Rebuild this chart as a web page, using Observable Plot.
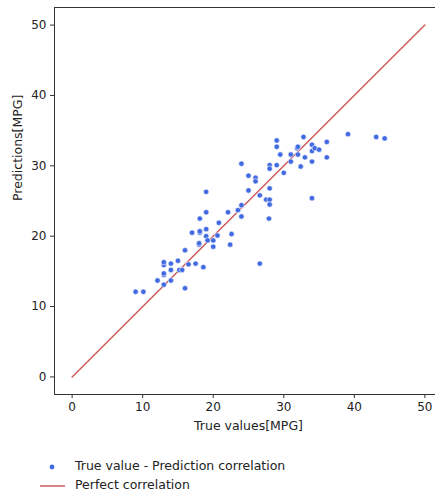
<!DOCTYPE html>
<html>
<head>
<meta charset="utf-8">
<script src="https://cdn.jsdelivr.net/npm/d3@7"></script>
<script src="https://cdn.jsdelivr.net/npm/@observablehq/plot@0.6"></script>
<style>
  html, body { margin: 0; padding: 0; background: #fff; overflow: hidden; }
  body { width: 435px; height: 495px; font-family: "DejaVu Sans", sans-serif; }
  #chart svg { max-width: none; display: block; }
  .legend { position: relative; height: 55px; font-size: 12.5px; color: #222; }
  .legend .item { position: absolute; left: 0; height: 18px; }
  .legend svg { position: absolute; left: 0; top: 0; }
  .legend span { position: absolute; left: 75px; top: 0px; white-space: nowrap; }
</style>
</head>
<body>
<div id="chart"></div>
<div class="legend">
  <div class="item" style="top:18px;">
    <svg width="70" height="18"><circle cx="52" cy="9" r="2.4" fill="#4169e1"></circle></svg>
    <span id="leg1"></span>
  </div>
  <div class="item" style="top:37px;">
    <svg width="70" height="18"><line x1="40" x2="65" y1="9" y2="9" stroke="#cd5c5c" stroke-width="1.5"></line></svg>
    <span id="leg2"></span>
  </div>
</div>
<script>
// True values (x) and predictions (y), MPG
const trueValues = [9.0, 10.1, 12.1, 13.0, 13.0, 13.0, 13.0, 13.0, 14.0, 14.0, 14.0, 15.0, 15.2, 15.6, 16.0, 16.0, 16.5, 17.0, 17.5, 18.0,
  18.0, 18.1, 18.1, 18.1, 18.6, 19.0, 19.0, 19.0, 19.0, 19.2, 20.0, 20.0, 20.6, 20.8, 22.1, 22.4, 22.6, 23.5, 24.0, 24.0,
  24.0, 25.0, 25.0, 26.0, 26.0, 26.6, 26.6, 27.5, 28.0, 28.0, 27.9, 28.0, 28.0, 28.0, 29.0, 29.0, 29.0, 29.5, 30.0, 31.0,
  31.0, 31.9, 32.0, 32.0, 32.4, 32.8, 33.0, 34.0, 34.0, 34.4, 35.0, 34.0, 34.0, 36.1, 36.1, 39.1, 43.1, 44.3];
const predictions = [12.1, 12.1, 13.7, 13.1, 14.5, 14.7, 15.9, 16.3, 13.7, 15.2, 16.1, 16.5, 15.2, 15.2, 12.6, 18.0, 16.0, 20.5, 16.1, 18.8,
  19.0, 20.5, 20.7, 22.5, 15.6, 26.3, 23.4, 21.0, 20.0, 19.4, 19.4, 18.5, 20.1, 21.9, 23.4, 18.8, 20.3, 23.7, 24.4, 22.8,
  30.3, 28.6, 26.5, 28.3, 27.8, 25.8, 16.1, 25.2, 25.2, 24.5, 22.5, 26.8, 30.1, 29.6, 30.1, 33.6, 32.7, 31.6, 29.0, 31.6,
  30.6, 32.5, 32.7, 31.6, 29.9, 34.1, 31.2, 33.0, 32.1, 32.5, 32.3, 30.6, 25.4, 33.4, 31.2, 34.5, 34.1, 33.9];
const perfectLine = [0, 50];
const tickValues = [0, 10, 20, 30, 40, 50];
const xLabel = "True values[MPG]";
const yLabel = "Predictions[MPG]";
const legendLabels = ["True value - Prediction correlation", "Perfect correlation"];

const points = trueValues.map((t, i) => ({t, p: predictions[i]}));
const linePts = perfectLine.map(v => ({t: v, p: v}));

const font = "DejaVu Sans, sans-serif";
const chart = Plot.plot({
  width: 442,
  height: 440,
  marginLeft: 54,
  marginRight: 0,
  marginTop: 7,
  marginBottom: 46,
  style: {fontFamily: font, fontSize: "12px", color: "#222", background: "white"},
  x: {domain: [-2.5, 52.5]},
  y: {domain: [-2.5, 52.5]},
  marks: [
    Plot.line(linePts, {x: "t", y: "p", stroke: "#cd5c5c", strokeWidth: 1.5}),
    Plot.dot(points, {x: "t", y: "p", r: 2.7, fill: "#4169e1", stroke: "white", strokeWidth: 0.6}),
    Plot.frame({stroke: "#333", strokeWidth: 1}),
    Plot.axisX({ticks: tickValues, tickSize: 4, tickPadding: 4, label: null, fontSize: 12, stroke: "#333"}),
    Plot.axisY({ticks: tickValues, tickSize: 4, tickPadding: 4, label: null, fontSize: 12, stroke: "#333"}),
    Plot.text([xLabel], {frameAnchor: "bottom", dy: 35, fontSize: 12.5, fill: "#222"}),
    Plot.text([yLabel], {frameAnchor: "left", dx: -37, rotate: -90, fontSize: 12.5, fill: "#222"})
  ]
});
document.getElementById("chart").appendChild(chart);
document.getElementById("leg1").textContent = legendLabels[0];
document.getElementById("leg2").textContent = legendLabels[1];
</script>
</body>
</html>
